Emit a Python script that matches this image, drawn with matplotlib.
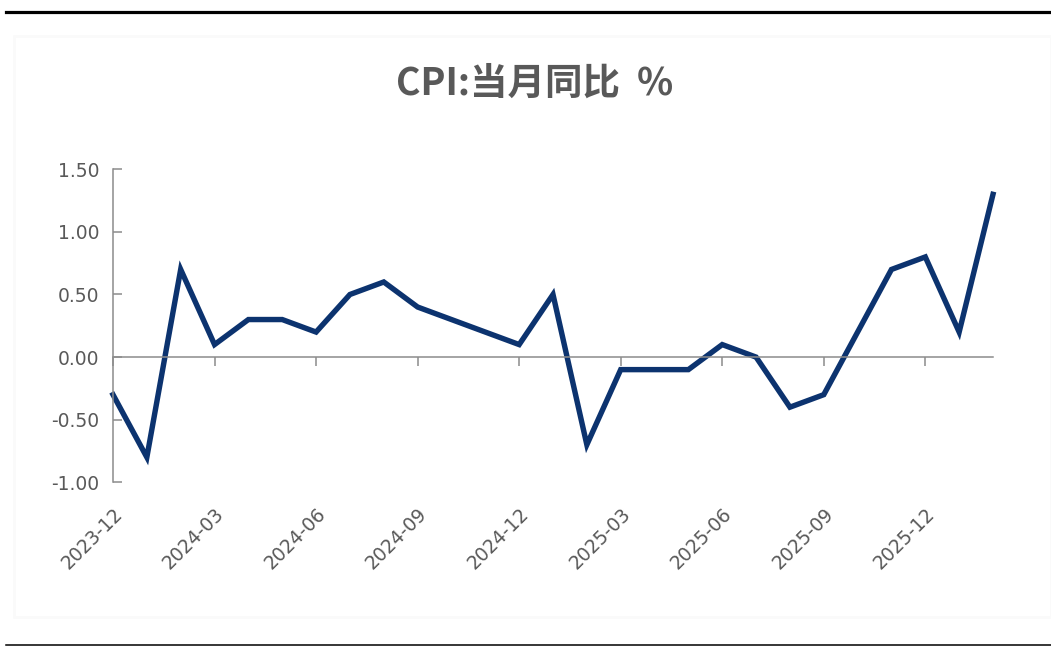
import matplotlib
matplotlib.use("Agg")
import matplotlib.pyplot as plt
from matplotlib.lines import Line2D
from matplotlib.patches import Rectangle

# CPI month-on-year values, 2023-12 .. 2026-02
months = ['2023-12', '2024-01', '2024-02', '2024-03', '2024-04', '2024-05', '2024-06',
          '2024-07', '2024-08', '2024-09', '2024-10', '2024-11', '2024-12',
          '2025-01', '2025-02', '2025-03', '2025-04', '2025-05', '2025-06',
          '2025-07', '2025-08', '2025-09', '2025-10', '2025-11', '2025-12',
          '2026-01', '2026-02']
cpi_yoy = [-0.3, -0.8, 0.7, 0.1, 0.3, 0.3, 0.2, 0.5, 0.6, 0.4, 0.3, 0.2, 0.1,
           0.5, -0.7, -0.1, -0.1, -0.1, 0.1, 0.0, -0.4, -0.3, 0.2, 0.7, 0.8,
           0.2, 1.3]
y_ticks = [-1.0, -0.5, 0.0, 0.5, 1.0, 1.5]
title = 'CPI:当月同比  %'

grey_txt = '#595959'
grey_ax = '#8C8C8C'
navy = '#0C336F'

plt.rcParams['font.family'] = ['DejaVu Sans']

fig = plt.figure(figsize=(10.51, 6.46), dpi=100)
W, H = 1051, 646

# frame lines and faint panel
fig.add_artist(Rectangle((14 / W, 1 - 617 / H), 1 - 14 / W, (617 - 36) / H,
                         transform=fig.transFigure, facecolor='none',
                         edgecolor='#FAFAFA', linewidth=2))
fig.add_artist(Line2D([6 / W, 1], [1 - 11.5 / H] * 2, transform=fig.transFigure,
                      color='black', linewidth=2.3))
fig.add_artist(Line2D([6 / W, 1], [1 - 644.5 / H] * 2, transform=fig.transFigure,
                      color='black', linewidth=1.1))

ax = fig.add_axes([113 / W, 1 - 482.3 / H, (993 - 113) / W, (482.3 - 169.3) / H])
x = list(range(len(months)))
ax.plot(x, cpi_yoy, color=navy, linewidth=3.9, solid_joinstyle='miter', clip_on=False)

ax.set_xlim(0, len(months) - 1)
ax.set_ylim(-1.0, 1.5)
ax.set_yticks(y_ticks)
ax.set_yticklabels([f'{v:.2f}' for v in y_ticks])

for s in ['top', 'right']:
    ax.spines[s].set_visible(False)
ax.spines['left'].set_color(grey_ax)
ax.spines['left'].set_linewidth(1.1)
ax.spines['bottom'].set_position(('data', 0))
ax.spines['bottom'].set_color(grey_ax)
ax.spines['bottom'].set_linewidth(1.1)

ax.tick_params(axis='y', direction='in', length=6.5, width=1.1, color=grey_ax,
               labelcolor=grey_txt, labelsize=13.5, pad=10)
tick_pos = x[::3]
ax.set_xticks(tick_pos)
ax.tick_params(axis='x', direction='out', length=6.5, width=1.1, color=grey_ax,
               labelbottom=False)

# date labels sit at the bottom of the plot, not on the zero line
sec = ax.secondary_xaxis('bottom')
sec.set_xticks(tick_pos)
sec.set_xticklabels(months[::3], rotation=45, ha='right', va='top',
                    rotation_mode='anchor')
sec.spines['bottom'].set_visible(False)
sec.tick_params(axis='x', length=0, labelcolor=grey_txt, labelsize=13.5, pad=16)

fig.text(535 / W, 1 - 83 / H, title, ha='center', va='center', color=grey_txt,
         fontsize=27, fontweight='bold', family=['Noto Sans CJK SC', 'DejaVu Sans'])

fig.savefig('out.png', dpi=100)
